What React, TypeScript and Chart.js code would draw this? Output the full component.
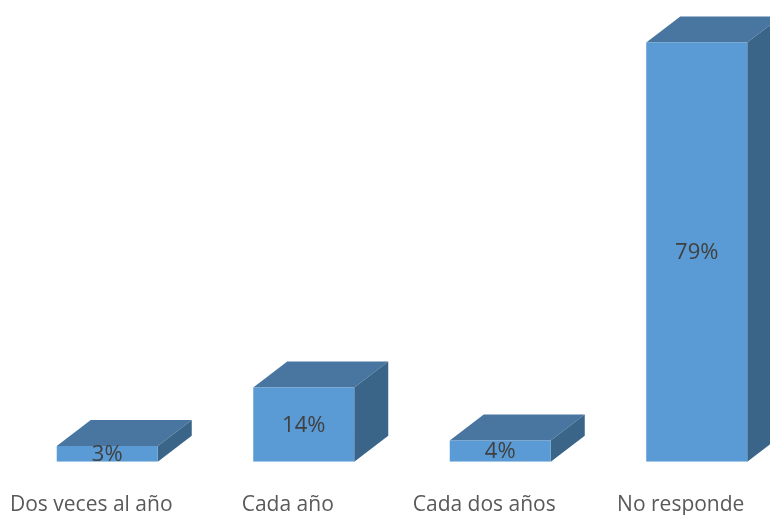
import React, { useEffect, useRef } from "react";
import { Chart, registerables } from "chart.js";

Chart.register(...registerables);

const categories = ["Dos veces al año", "Cada año", "Cada dos años", "No responde"];
const values = [3, 14, 4, 79];

const FRONT = "#5b9bd5";
const TOP = "#4876a1";
const SIDE = "#3a6488";
const TEXT = "#404040";
const AXIS_TEXT = "#595959";
const DEPTH_X = 34;
const DEPTH_Y = 26;

const bar3d = {
  id: "bar3d",
  beforeDatasetsDraw(chart: any) {
    const { ctx } = chart;
    chart.getDatasetMeta(0).data.forEach((b: any) => {
      const l = b.x - b.width / 2;
      const r = b.x + b.width / 2;
      const t = b.y;
      const base = b.base;
      ctx.save();
      ctx.fillStyle = TOP;
      ctx.beginPath();
      ctx.moveTo(l, t);
      ctx.lineTo(l + DEPTH_X, t - DEPTH_Y);
      ctx.lineTo(r + DEPTH_X, t - DEPTH_Y);
      ctx.lineTo(r, t);
      ctx.closePath();
      ctx.fill();
      ctx.fillStyle = SIDE;
      ctx.beginPath();
      ctx.moveTo(r, t);
      ctx.lineTo(r + DEPTH_X, t - DEPTH_Y);
      ctx.lineTo(r + DEPTH_X, base - DEPTH_Y);
      ctx.lineTo(r, base);
      ctx.closePath();
      ctx.fill();
      ctx.restore();
    });
  },
  afterDatasetsDraw(chart: any) {
    const { ctx } = chart;
    chart.getDatasetMeta(0).data.forEach((b: any, i: number) => {
      ctx.save();
      ctx.fillStyle = TEXT;
      ctx.font = '22px "Open Sans"';
      ctx.textAlign = "center";
      ctx.textBaseline = "middle";
      ctx.fillText(values[i] + "%", b.x, (b.y + b.base) / 2 + 1);
      ctx.restore();
    });
  },
};

export default function App() {
  const ref = useRef<HTMLCanvasElement>(null);
  useEffect(() => {
    document.body.style.margin = "0";
    const chart = new Chart(ref.current!, {
      type: "bar",
      data: {
        labels: categories,
        datasets: [{ data: values, backgroundColor: FRONT, borderWidth: 0, barPercentage: 1, categoryPercentage: 0.514 }],
      },
      options: {
        responsive: false,
        animation: false,
        layout: { padding: { left: 9, right: 0, top: 0, bottom: 0 } },
        plugins: { legend: { display: false }, tooltip: { enabled: false } },
        scales: {
          x: {
            grid: { display: false },
            border: { display: false },
            ticks: {
              color: AXIS_TEXT,
              font: { family: "Open Sans", size: 21 },
              labelOffset: -16,
              padding: 23,
              maxRotation: 0,
              autoSkip: false,
            },
          },
          y: { display: false, min: 0, max: 87 },
        },
      },
      plugins: [bar3d],
    });
    return () => chart.destroy();
  }, []);
  return (
    <div style={{ position: "fixed", left: 0, top: 0, width: 770, height: 515, overflow: "hidden", background: "#fff" }}>
      <canvas ref={ref} width={795} height={541} style={{ display: "block" }} />
    </div>
  );
}
